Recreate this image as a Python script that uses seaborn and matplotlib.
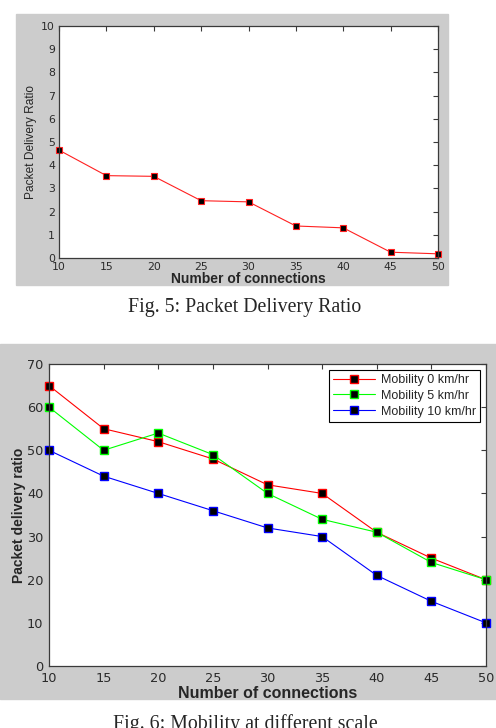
import matplotlib
matplotlib.use("Agg")
import matplotlib.pyplot as plt
from matplotlib.patches import Rectangle
import seaborn as sns
import pandas as pd

# Fig. 5 data
connections = [10, 15, 20, 25, 30, 35, 40, 45, 50]
pdr_fig5 = [4.65, 3.55, 3.52, 2.47, 2.42, 1.38, 1.3, 0.25, 0.18]

# Fig. 6 data
mob_0 = [65, 55, 52, 48, 42, 40, 31, 25, 20]
mob_5 = [60, 50, 54, 49, 40, 34, 31, 24, 20]
mob_10 = [50, 44, 40, 36, 32, 30, 21, 15, 10]
mob_labels = ["Mobility 0 km/hr", "Mobility 5 km/hr", "Mobility 10 km/hr"]
mob_colors = ["#ff0000", "#00ff00", "#0000ff"]

sns.set_style("white")
plt.rcParams["font.family"] = ["Liberation Sans", "DejaVu Sans"]

W, H = 496, 728
fig = plt.figure(figsize=(W / 100, H / 100), dpi=100)

# matlab style gray figure panels, behind the axes
fig.patches.append(Rectangle((16 / W, 1 - 285 / H), 432 / W, 271 / H,
                             transform=fig.transFigure, color="#cccccc", zorder=-10))
fig.patches.append(Rectangle((0, 1 - 699 / H), 1, 355 / H,
                             transform=fig.transFigure, color="#cccccc", zorder=-10))


def matlab_axes(ax, tick_size, pad):
    ax.set_facecolor("white")
    for s in ax.spines.values():
        s.set_color("#3a3a3a")
        s.set_linewidth(0.9)
        s.set_visible(True)
    ax.tick_params(direction="in", top=True, right=True, length=3.5, width=0.8,
                   color="#3a3a3a", labelcolor="#2a2a2a", labelsize=tick_size, pad=pad)
    for t in ax.get_xticklabels() + ax.get_yticklabels():
        t.set_family("DejaVu Sans")


# ---- Fig. 5 ----
ax1 = fig.add_axes([59 / W, 1 - 258 / H, 379 / W, 232 / H])
df5 = pd.DataFrame({"connections": connections, "pdr": pdr_fig5})
sns.lineplot(data=df5, x="connections", y="pdr", ax=ax1, color="#ff2020",
             linewidth=0.8, marker="s", markersize=4.9, markerfacecolor="black",
             markeredgecolor="#ff2020", markeredgewidth=0.8, clip_on=False)
ax1.set_xlim(10, 50)
ax1.set_ylim(0, 10)
ax1.set_xticks(connections)
ax1.set_yticks(range(0, 11))
matlab_axes(ax1, 7.8, 3)
ax1.set_xlabel("Number of connections", fontsize=10, fontweight="bold", labelpad=0)
ax1.set_ylabel("Packet Delivery Ratio", fontsize=8.6, labelpad=3)

fig.text(245 / W, 1 - 307 / H, "Fig. 5: Packet Delivery Ratio", ha="center", va="center",
         fontsize=14.3, family="Liberation Serif")

# ---- Fig. 6 ----
ax2 = fig.add_axes([49 / W, 1 - 666 / H, 437 / W, 302 / H])
for vals, lab, col in zip([mob_0, mob_5, mob_10], mob_labels, mob_colors):
    d = pd.DataFrame({"connections": connections, "ratio": vals})
    sns.lineplot(data=d, x="connections", y="ratio", ax=ax2, color=col, label=lab,
                 linewidth=0.8, marker="s", markersize=6.0, markerfacecolor="black",
                 markeredgecolor=col, markeredgewidth=1.0, clip_on=False)
ax2.set_xlim(10, 50)
ax2.set_ylim(0, 70)
ax2.set_xticks(connections)
ax2.set_yticks(range(0, 71, 10))
matlab_axes(ax2, 9.3, 4)
ax2.set_xlabel("Number of connections", fontsize=11.5, fontweight="bold", labelpad=1)
ax2.set_ylabel("Packet delivery ratio", fontsize=10, fontweight="bold", labelpad=1)
leg = ax2.legend(loc="upper right", fontsize=9, frameon=True, fancybox=False,
                 handlelength=3.3, borderaxespad=0.45, labelspacing=0.3,
                 handletextpad=0.5, borderpad=0.35)
leg.get_frame().set_edgecolor("black")
leg.get_frame().set_linewidth(0.8)
leg.get_frame().set_alpha(1)

# caption sits at the very bottom edge, partly cut off as in the source page
fig.text(245 / W, -0.002, "Fig. 6: Mobility at different scale", ha="center", va="baseline",
         fontsize=14.3, family="Liberation Serif")

fig.savefig("out.png", dpi=100, facecolor="white")
